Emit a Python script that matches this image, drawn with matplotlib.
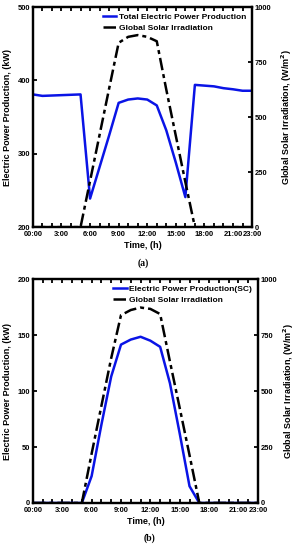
import numpy as np
import matplotlib
matplotlib.use('Agg')
import matplotlib.pyplot as plt

plt.rcParams['font.family'] = ['Liberation Sans', 'DejaVu Sans']
plt.rcParams['font.weight'] = 'bold'

hours = np.arange(0, 24)
tick_labels = ['00:00', '3:00', '6:00', '9:00', '12:00', '15:00', '18:00', '21:00', '23:00']
tick_hours = [0, 3, 6, 9, 12, 15, 18, 21, 23]

# panel (a)
total_power = [381, 379, 379.5, 380, 380.5, 381, 239, 282, 325, 369.5, 374, 375.5, 374, 366,
               332, 288, 241, 394, 393, 392, 389.5, 388, 386, 386]
irr_a = [0, 0, 0, 0, 0, 0, 210, 420, 630, 838, 865, 873, 865, 845,
         625, 415, 205, 0, 0, 0, 0, 0, 0, 0]

# panel (b)
sc_power = [0, 0, 0, 0, 0, 0, 24, 70, 113, 141.5, 146, 148.5, 145, 139.5,
            107, 62, 15, 0, 0, 0, 0, 0, 0, 0]
irr_b = [0, 0, 0, 0, 0, 0, 220, 434, 647, 839, 862, 873, 867, 844,
         632, 424, 214, 0, 0, 0, 0, 0, 0, 0]

dash_dot = (0, (5, 1.6, 1.6, 1.6))
fs = 6
tfs = 5.4


def style_axes(ax, ax2, rpad):
    for a in (ax, ax2):
        for sp in a.spines.values():
            sp.set_linewidth(1.6)
    ax.set_xlim(0, 23)
    ax.set_xticks(hours, minor=True)
    ax.set_xticks(tick_hours)
    ax.set_xticklabels(tick_labels, fontsize=tfs, fontweight='bold')
    ax.tick_params(axis='x', which='both', direction='in', top=True, length=3, width=1.3, pad=3)
    ax.tick_params(axis='y', direction='in', length=3, width=1.3, labelsize=tfs, pad=2)
    ax2.tick_params(axis='y', direction='in', length=3, width=1.3, labelsize=tfs, pad=2)
    for lab in ax.get_yticklabels() + ax2.get_yticklabels():
        lab.set_fontweight('bold')
    ax.set_xlabel('Time, (h)', fontsize=6.5, fontweight='bold', labelpad=2)
    ax.set_ylabel('Electric Power Production, (kW)', fontsize=6.5, fontweight='bold', labelpad=4)
    ax2.set_ylabel('Global Solar Irradiation, (W/m$^\\mathbf{2}$)', fontsize=6.5,
                   fontweight='bold', labelpad=rpad)


fig = plt.figure(figsize=(2.99, 5.5), dpi=100)

ax1 = fig.add_axes([0.110, 0.587, 0.733, 0.400])
ax1b = ax1.twinx()
l1, = ax1.plot(hours, total_power, color='#0a14e6', lw=1.8)
l2, = ax1b.plot(hours, irr_a, color='black', lw=1.8, linestyle=dash_dot)
ax1.set_ylim(200, 500)
ax1.set_yticks([200, 300, 400, 500])
ax1b.set_ylim(0, 1000)
ax1b.set_yticks([0, 250, 500, 750, 1000])
style_axes(ax1, ax1b, 6)
ax1b.legend([l1, l2], ['Total Electric Power Production', 'Global Solar Irradiation'],
            loc='upper right', frameon=False, handlelength=1.6,
            handletextpad=0.3, labelspacing=0.35, borderaxespad=0.3,
            prop={'weight': 'bold', 'size': fs})
fig.text(0.48, 0.522, '(a)', family='Liberation Serif', fontsize=7, fontweight='bold',
         ha='center', va='center')

ax2 = fig.add_axes([0.110, 0.0855, 0.753, 0.407])
ax2b = ax2.twinx()
m1, = ax2.plot(hours, sc_power, color='#0a14e6', lw=1.8)
m2, = ax2b.plot(hours, irr_b, color='black', lw=1.8, linestyle=dash_dot)
ax2.set_ylim(0, 200)
ax2.set_yticks([0, 50, 100, 150, 200])
ax2b.set_ylim(0, 1000)
ax2b.set_yticks([0, 250, 500, 750, 1000])
style_axes(ax2, ax2b, 3)
ax2b.legend([m1, m2], ['Electric Power Production(SC)', 'Global Solar Irradiation'],
            loc='upper right', frameon=False, handlelength=1.6,
            handletextpad=0.3, labelspacing=0.35, borderaxespad=0.3,
            prop={'weight': 'bold', 'size': fs})
fig.text(0.50, 0.022, '(b)', family='Liberation Serif', fontsize=7, fontweight='bold',
         ha='center', va='center')

fig.savefig('out.png', dpi=100)
